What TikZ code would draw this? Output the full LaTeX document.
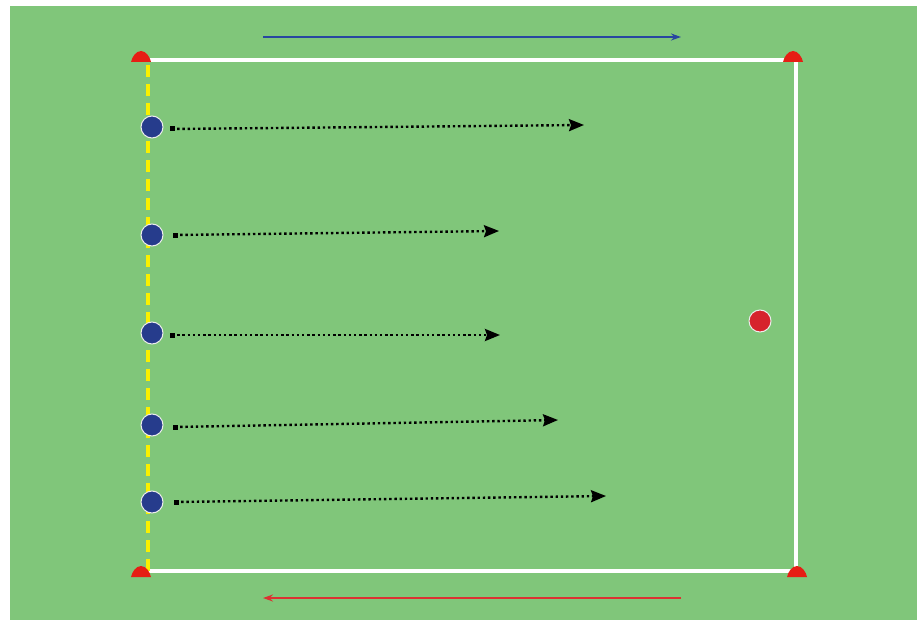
\documentclass[tikz,border=0pt]{standalone}
\usetikzlibrary{arrows.meta}
\definecolor{grass}{RGB}{128,198,122}
\definecolor{pblue}{RGB}{38,60,140}
\definecolor{pred}{RGB}{214,35,44}
\definecolor{cone}{RGB}{230,30,20}
\definecolor{yel}{RGB}{250,240,0}
\definecolor{abl}{RGB}{40,70,160}
\definecolor{ared}{RGB}{220,50,50}
\tikzset{
  player/.style={circle,minimum size=22pt,inner sep=0pt,draw=white!85!gray,line width=1pt},
  bluep/.style={player,fill=pblue},
  redp/.style={player,fill=pred},
  conemark/.style={fill=cone},
  run/.style={line width=2.4pt,dash pattern=on 2.4pt off 2.8pt,-{Stealth[length=15pt,width=12pt,inset=2pt]}},
  boundary/.style={white,line width=4pt},
}
\begin{document}
\begin{tikzpicture}[x=1pt,y=-1pt]
\useasboundingbox (0,0) rectangle (917,620);
\fill[white] (0,0) rectangle (917,620);
\fill[grass] (10,6) rectangle (917,620);
% field
\coordinate (TL) at (148,60);
\coordinate (TR) at (796,60);
\coordinate (BR) at (796,571);
\coordinate (BL) at (148,571);
\draw[boundary,line join=miter] (TL) -- (TR) -- (BR) -- (BL);
\draw[yel,line width=4pt,dash pattern=on 12pt off 7pt] (BL) -- (TL);
% cones
\foreach \x/\y in {141/57,793/57,141/572,797/572}{
  \fill[conemark] (\x-10,\y+5) .. controls (\x-9,\y) and (\x-5,\y-6) .. (\x,\y-6)
     .. controls (\x+5,\y-6) and (\x+9,\y) .. (\x+10,\y+5) -- cycle;
}
% players
\node[bluep] (p1) at (152,127) {};
\node[bluep] (p2) at (152,235) {};
\node[bluep] (p3) at (152,333) {};
\node[bluep] (p4) at (152,425) {};
\node[bluep] (p5) at (152,502) {};
\node[redp] (r1) at (760,321) {};
% run targets
\coordinate (s1) at (172,129); \coordinate (e1) at (584,125);
\coordinate (s2) at (175,235); \coordinate (e2) at (499,231);
\coordinate (s3) at (172,335); \coordinate (e3) at (500,335);
\coordinate (s4) at (175,427); \coordinate (e4) at (558,420);
\coordinate (s5) at (176,502); \coordinate (e5) at (606,496);
\foreach \i in {1,...,5}{
  \fill (s\i) ++(-2.5,-2.5) rectangle ++(5,5);
  \draw[run] (s\i) -- (e\i);
}
% direction arrows
\coordinate (ta) at (263,37); \coordinate (tb) at (681,37);
\coordinate (ba) at (681,598); \coordinate (bb) at (263,598);
\draw[abl,line width=1.8pt,-{Stealth[length=10pt,width=7pt]}] (ta) -- (tb);
\draw[ared,line width=1.8pt,-{Stealth[length=10pt,width=7pt]}] (ba) -- (bb);
\end{tikzpicture}
\end{document}
